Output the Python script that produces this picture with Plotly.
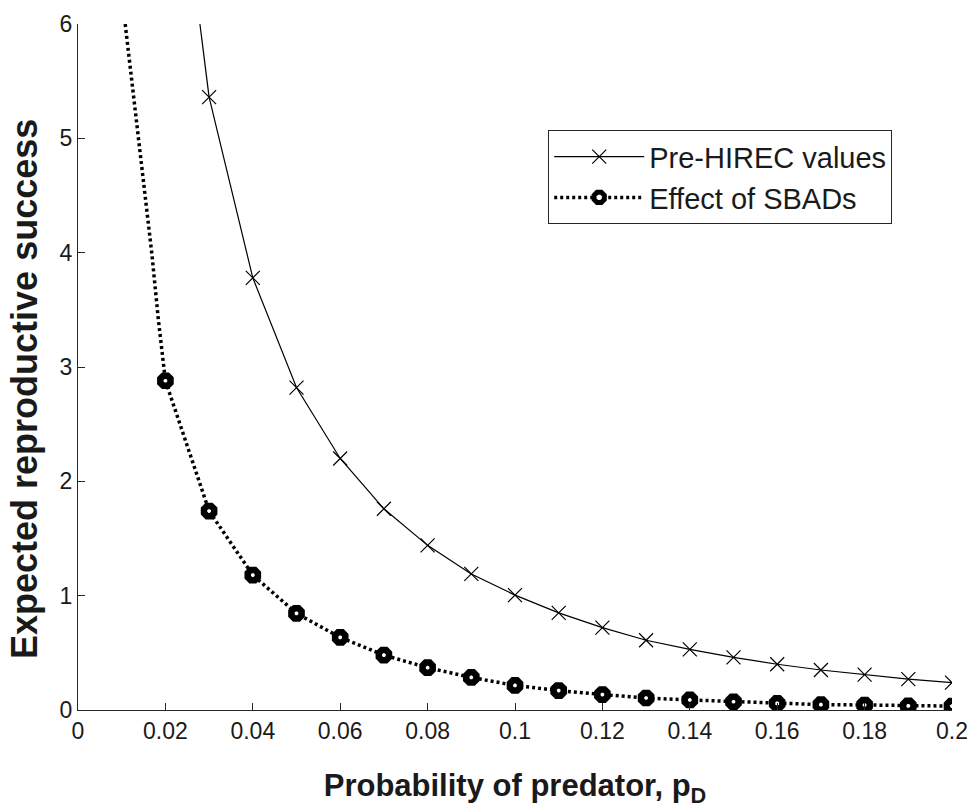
import plotly.graph_objects as go

# ---- data ----
p_grid_pre = [0.03, 0.04, 0.05, 0.06, 0.07, 0.08, 0.09, 0.10, 0.11, 0.12,
              0.13, 0.14, 0.15, 0.16, 0.17, 0.18, 0.19, 0.20]
pre_hirec = [5.36, 3.78, 2.82, 2.20, 1.76, 1.44, 1.19, 1.005, 0.85, 0.72,
             0.61, 0.53, 0.46, 0.40, 0.35, 0.31, 0.27, 0.24]
# upper part of the pre-HIREC curve (above the first marker)
pre_top_x = [0.0279, 0.03]
pre_top_y = [6.0, 5.36]

p_grid_sbad = [0.02, 0.03, 0.04, 0.05, 0.06, 0.07, 0.08, 0.09, 0.10, 0.11,
               0.12, 0.13, 0.14, 0.15, 0.16, 0.17, 0.18, 0.19, 0.20]
sbads = [2.88, 1.74, 1.18, 0.845, 0.635, 0.48, 0.37, 0.285, 0.215, 0.17,
         0.135, 0.105, 0.088, 0.072, 0.058, 0.047, 0.044, 0.036, 0.034]
# upper part of the SBAD curve (above the first marker)
sbad_top_x = [0.0108, 0.0134, 0.0169, 0.0184, 0.02]
sbad_top_y = [6.0, 5.16, 3.99, 3.41, 2.88]

x_ticks = [0, 0.02, 0.04, 0.06, 0.08, 0.1, 0.12, 0.14, 0.16, 0.18, 0.2]
x_ticklabels = ["0", "0.02", "0.04", "0.06", "0.08", "0.1", "0.12", "0.14", "0.16", "0.18", "0.2"]
y_ticks = [0, 1, 2, 3, 4, 5, 6]

FONT = "Liberation Sans, Arial, sans-serif"
AX = "#262626"
TXT = "#1a1a1a"

fig = go.Figure()

fig.add_trace(go.Scatter(
    x=pre_top_x, y=pre_top_y, mode="lines",
    line=dict(color="black", width=1.2),
    showlegend=False, legendgroup="pre", hoverinfo="skip"))
fig.add_trace(go.Scatter(
    x=p_grid_pre, y=pre_hirec, mode="lines+markers", name="Pre-HIREC values",
    legendgroup="pre",
    line=dict(color="black", width=1.2),
    marker=dict(symbol="x-thin", size=14, line=dict(color="black", width=1.2))))

fig.add_trace(go.Scatter(
    x=sbad_top_x, y=sbad_top_y, mode="lines",
    line=dict(color="black", width=3.5, dash="3px,3px"),
    showlegend=False, legendgroup="sbad", hoverinfo="skip"))
fig.add_trace(go.Scatter(
    x=p_grid_sbad, y=sbads, mode="lines+markers", name="Effect of SBADs",
    legendgroup="sbad",
    line=dict(color="black", width=3.5, dash="3px,3px"),
    marker=dict(symbol="octagon", size=11, color="white",
                line=dict(color="black", width=6.5))))

fig.update_layout(
    width=967, height=808,
    margin=dict(l=78, r=15, t=24, b=98, autoexpand=False),
    paper_bgcolor="white", plot_bgcolor="white",
    font=dict(family=FONT, size=23, color=TXT),
    showlegend=True,
    legend=dict(
        x=0.538, y=0.845, xanchor="left", yanchor="top",
        bordercolor=AX, borderwidth=1, bgcolor="white",
        font=dict(family=FONT, size=29, color=TXT),
        itemwidth=90, tracegroupgap=0,
    ),
    xaxis=dict(
        range=[0, 0.2], tickvals=x_ticks, ticktext=x_ticklabels,
        showline=True, linecolor=AX, linewidth=1, mirror=False,
        ticks="inside", ticklen=7, tickcolor=AX, tickwidth=1,
        showgrid=False, zeroline=False, ticklabeloverflow="allow",
        automargin=False,
        tickfont=dict(family=FONT, size=23, color=TXT),
        title=dict(text="<b>Probability of predator, p<sub>D</sub></b>",
                   font=dict(family=FONT, size=31, color=TXT), standoff=34),
    ),
    yaxis=dict(
        range=[0, 6], tickvals=y_ticks,
        showline=True, linecolor=AX, linewidth=1, mirror=False,
        ticks="inside", ticklen=7, tickcolor=AX, tickwidth=1,
        showgrid=False, zeroline=False, ticklabeloverflow="allow",
        automargin=False,
        tickfont=dict(family=FONT, size=23, color=TXT),
    ),
    annotations=[dict(
        text="<b>Expected reproductive success</b>",
        xref="paper", yref="paper", x=-0.0606, y=0.468,
        xanchor="center", yanchor="middle", textangle=-90, showarrow=False,
        font=dict(family=FONT, size=36, color=TXT),
    )],
)

fig.write_html("out.html")
